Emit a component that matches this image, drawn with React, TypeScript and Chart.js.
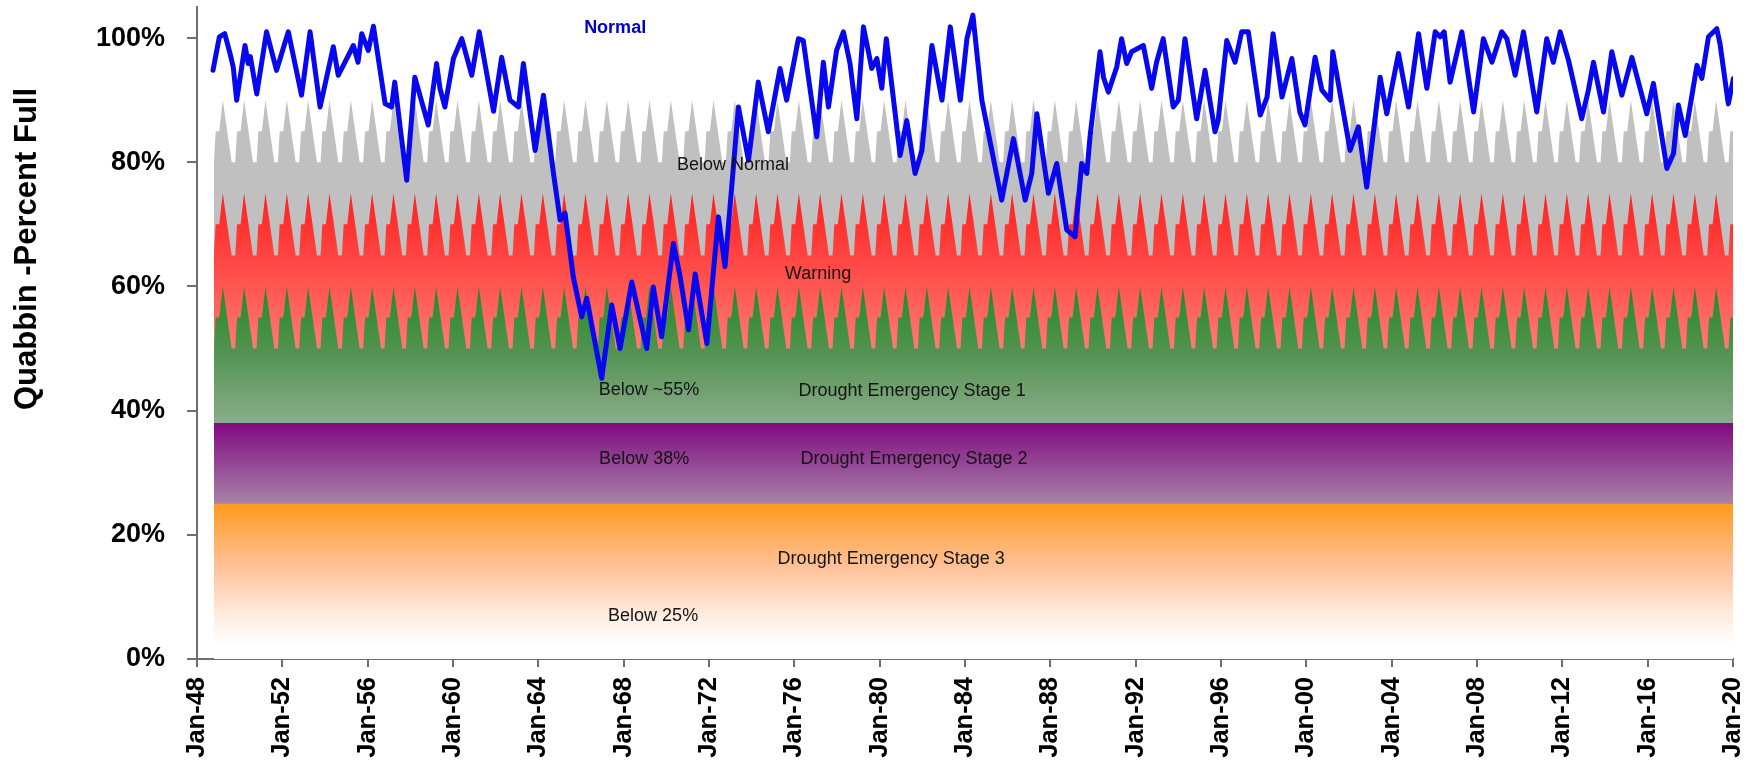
import React, { useEffect, useRef } from 'react';
import { Chart, registerables } from 'chart.js';

Chart.register(...registerables);

// ---------- data ----------
const X_TICK_YEARS = [1948, 1952, 1956, 1960, 1964, 1968, 1972, 1976, 1980, 1984, 1988, 1992, 1996, 2000, 2004, 2008, 2012, 2016, 2020];
const Y_TICKS = [0, 20, 40, 60, 80, 100];

// Quabbin percent full (decimal year, percent)
const LEVEL_DATES = [
  1948.75, 1949.05, 1949.3, 1949.55, 1949.7, 1949.86, 1950.25, 1950.4, 1950.5, 1950.8,
  1951.26, 1951.73, 1952.28, 1952.9, 1953.3, 1953.77, 1954.39, 1954.62, 1954.86, 1955.33,
  1955.55, 1955.72, 1956.03, 1956.27, 1956.82, 1957.12, 1957.27, 1957.52, 1957.83, 1958.21,
  1958.84, 1959.23, 1959.39, 1959.62, 1960.02, 1960.41, 1960.88, 1961.23, 1961.9, 1962.28,
  1962.67, 1963.07, 1963.3, 1963.85, 1964.24, 1964.71, 1965.02, 1965.25, 1965.64, 1966.03,
  1966.27, 1966.97, 1967.44, 1967.83, 1968.38, 1969.08, 1969.39, 1969.78, 1970.33, 1970.65,
  1971.04, 1971.35, 1971.9, 1972.44, 1972.75, 1973.38, 1973.85, 1974.31, 1974.78, 1975.33,
  1975.64, 1976.19, 1976.42, 1977.05, 1977.36, 1977.6, 1977.98, 1978.3, 1978.61, 1978.93,
  1979.24, 1979.63, 1979.87, 1980.1, 1980.31, 1980.96, 1981.27, 1981.66, 1981.98, 1982.45,
  1982.92, 1983.31, 1983.78, 1984.09, 1984.37, 1984.79, 1985.02, 1985.72, 1986.27, 1986.82,
  1987.13, 1987.37, 1987.91, 1988.3, 1988.77, 1989.16, 1989.47, 1989.71, 1989.86, 1990.33,
  1990.49, 1990.72, 1991.11, 1991.34, 1991.58, 1991.81, 1992.36, 1992.75, 1992.98, 1993.29,
  1993.76, 1994.0, 1994.31, 1994.86, 1995.25, 1995.72, 1995.87, 1996.27, 1996.66, 1996.97,
  1997.28, 1997.84, 1998.16, 1998.44, 1998.86, 1999.32, 1999.7, 1999.94, 2000.41, 2000.73,
  2001.12, 2001.24, 2002.05, 2002.44, 2002.83, 2003.46, 2003.77, 2004.0, 2004.32, 2004.79,
  2005.26, 2005.65, 2006.04, 2006.27, 2006.46, 2006.74, 2007.29, 2007.84, 2008.3, 2008.7,
  2009.16, 2009.4, 2009.79, 2010.18, 2010.8, 2011.27, 2011.58, 2011.9, 2012.29, 2012.91,
  2013.22, 2013.46, 2013.93, 2014.32, 2014.79, 2015.26, 2015.96, 2016.27, 2016.9, 2017.21,
  2017.44, 2017.76, 2018.31, 2018.54, 2018.85, 2019.24, 2019.39, 2019.78, 2020.02,
];
const LEVEL_VALUES = [
  94.8, 100.2, 100.7, 97.5, 95.3, 90, 98.8, 95.9, 97, 91,
  101, 94.8, 101, 90.8, 101, 88.9, 98.6, 94, 95.6, 98.8,
  96.1, 100.7, 98, 101.9, 89.4, 88.9, 92.9, 85.7, 77.1, 93.7,
  86, 95.9, 91.9, 88.9, 96.7, 99.9, 94, 101, 88.2, 96.9,
  90, 88.9, 95.9, 81.9, 90.8, 78.2, 70.7, 71.8, 61.5, 55.1,
  58.1, 45.2, 57, 50, 60.7, 50, 59.9, 51.9, 66.9, 61.5,
  53, 62, 50.8, 71.2, 63.2, 88.9, 80.3, 92.9, 84.9, 95.1,
  90, 99.9, 99.6, 84.1, 96.1, 88.9, 98, 101, 95.9, 87,
  101.8, 95.1, 96.7, 91.9, 99.9, 81.1, 86.7, 78.2, 81.9, 98.8,
  90, 101.8, 90, 99.9, 103.7, 90, 86, 73.9, 83.8, 73.9,
  78.2, 87.8, 75, 79.8, 69.1, 68, 79.8, 78.2, 84.1, 97.8,
  93.7, 91.3, 95.3, 99.9, 95.9, 97.8, 98.8, 91.9, 96.1, 99.9,
  88.9, 90, 99.9, 87, 94.8, 84.9, 86.8, 99.6, 96.1, 101,
  101, 87.6, 90.5, 100.7, 90.5, 96.7, 88, 86, 96.9, 91.6,
  90, 97.8, 81.9, 85.7, 76, 93.7, 87.8, 91.9, 97.5, 88.9,
  100.7, 91.9, 101, 100.2, 101, 92.9, 101, 88.1, 99.9, 96.1,
  101, 99.9, 94, 101, 88.1, 99.9, 96.1, 101, 96.4, 87,
  91.6, 96.1, 88.1, 97.8, 90.8, 96.9, 87.8, 92.7, 79, 81.4,
  89.2, 84.3, 95.6, 93.5, 100.2, 101.5, 99.1, 89.4, 93.5,
];

// Seasonal zone thresholds (Jan..Dec), repeated every year
const BELOW_NORMAL_MONTHLY = [85, 87.5, 90, 88, 86, 84, 82, 80, 80, 80, 85, 85];
const WARNING_MONTHLY = [70, 72.5, 75, 73, 71, 69, 67, 65, 65, 65, 70, 70];
const STAGE1_MONTHLY = [55, 57.5, 60, 58, 56, 54, 52, 50, 50, 50, 55, 55];
const STAGE2_LEVEL = 38;
const STAGE3_LEVEL = 25;
const ZONE_FIRST = { year: 1948, month: 9 }; // Oct 1948
const ZONE_LAST = { year: 2020, month: 0 }; // Jan 2020

const ZONE_TEXTS = [
  'Normal', 'Below Normal', 'Warning', 'Below ~55%', 'Drought Emergency Stage 1',
  'Below 38%', 'Drought Emergency Stage 2', 'Drought Emergency Stage 3', 'Below 25%',
];
// label anchors in data units (year, percent)
const ZONE_TEXT_YEARS = [1967.6, 1973.13, 1977.11, 1969.19, 1981.52, 1968.96, 1981.61, 1980.54, 1969.38];
const ZONE_TEXT_VALUES = [101.6, 79.5, 62.0, 43.3, 43.1, 32.2, 32.2, 16.1, 7.0];

const Y_TITLE = 'Quabbin -Percent Full';

// ---------- helpers ----------
const FONT = "'Liberation Sans', Arial, Helvetica, sans-serif";
const AXIS_COLOR = '#6e6e6e';

function monthlySeries(pattern: number[]) {
  const pts: { x: number; y: number }[] = [];
  for (let yr = ZONE_FIRST.year; yr <= ZONE_LAST.year; yr++) {
    for (let m = 0; m < 12; m++) {
      if (yr === ZONE_FIRST.year && m < ZONE_FIRST.month) continue;
      if (yr === ZONE_LAST.year && m > ZONE_LAST.month) break;
      pts.push({ x: yr + (m + 0.5) / 12, y: pattern[m] });
    }
  }
  return pts;
}

function flatSeries(level: number) {
  return [
    { x: ZONE_FIRST.year + (ZONE_FIRST.month + 0.5) / 12, y: level },
    { x: ZONE_LAST.year + (ZONE_LAST.month + 0.5) / 12, y: level },
  ];
}

function vGradient(chart: any, fromVal: number, toVal: number, stops: [number, string][]) {
  const { ctx, chartArea, scales } = chart;
  if (!chartArea || !scales || !scales.y) return stops[0][1];
  const y0 = scales.y.getPixelForValue(fromVal);
  const y1 = scales.y.getPixelForValue(toVal);
  const g = ctx.createLinearGradient(0, y0, 0, y1);
  stops.forEach(([o, c]) => g.addColorStop(o, c));
  return g;
}

const zoneLabelPlugin = {
  id: 'zoneLabels',
  afterDatasetsDraw(chart: any) {
    const { ctx, scales } = chart;
    const xs = scales.x;
    const ys = scales.y;
    ctx.save();
    ctx.textAlign = 'center';
    ctx.textBaseline = 'middle';
    ZONE_TEXTS.forEach((t, i) => {
      if (i === 0) {
        ctx.font = `bold 18px ${FONT}`;
        ctx.fillStyle = '#0000cc';
      } else {
        ctx.font = `18px ${FONT}`;
        ctx.fillStyle = '#141414';
      }
      ctx.fillText(t, xs.getPixelForValue(ZONE_TEXT_YEARS[i]), ys.getPixelForValue(ZONE_TEXT_VALUES[i]));
    });
    // y axis title
    ctx.translate(27, 249);
    ctx.rotate(-Math.PI / 2);
    ctx.font = `bold 31px ${FONT}`;
    ctx.fillStyle = '#000';
    ctx.fillText(Y_TITLE, 0, 0);
    ctx.restore();
  },
};

export default function App() {
  const ref = useRef<HTMLCanvasElement | null>(null);

  useEffect(() => {
    if (!ref.current) return;
    const levelData = LEVEL_DATES.map((d, i) => ({ x: d, y: LEVEL_VALUES[i] }));
    const band = (data: any, order: number, bg: any) => ({
      data,
      order,
      fill: 'origin',
      borderWidth: 0,
      pointRadius: 0,
      backgroundColor: bg,
      borderColor: 'rgba(0,0,0,0)',
    });

    const chart = new Chart(ref.current, {
      type: 'line',
      data: {
        datasets: [
          {
            data: levelData,
            order: 0,
            fill: false,
            borderColor: '#0808f0',
            borderWidth: 5,
            pointRadius: 0,
            borderJoinStyle: 'round',
            borderCapStyle: 'round',
            tension: 0,
          } as any,
          band(flatSeries(STAGE3_LEVEL), 1, (c: any) =>
            vGradient(c.chart, STAGE3_LEVEL, 2, [[0, '#ff9a1e'], [0.45, '#ffc29a'], [0.8, '#ffeee4'], [1, '#ffffff']])),
          band(flatSeries(STAGE2_LEVEL), 2, (c: any) =>
            vGradient(c.chart, STAGE2_LEVEL, STAGE3_LEVEL, [[0, '#800a80'], [1, '#a883a8']])),
          band(monthlySeries(STAGE1_MONTHLY), 3, (c: any) =>
            vGradient(c.chart, 60, STAGE2_LEVEL, [[0, '#238b23'], [0.45, '#4f924f'], [1, '#8aac8a']])),
          band(monthlySeries(WARNING_MONTHLY), 4, (c: any) =>
            vGradient(c.chart, 75, 50, [[0, '#ff2020'], [1, '#ff7a72']])),
          band(monthlySeries(BELOW_NORMAL_MONTHLY), 5, '#c0c0c0'),
        ],
      },
      options: {
        responsive: false,
        animation: false,
        layout: { padding: { top: 7, right: 23, left: 0, bottom: 0 } },
        plugins: {
          legend: { display: false },
          tooltip: { enabled: false },
        },
        scales: {
          x: {
            type: 'linear',
            min: 1948,
            max: 2020,
            afterBuildTicks: (s: any) => {
              s.ticks = X_TICK_YEARS.map((v) => ({ value: v }));
            },
            afterFit: (s: any) => {
              s.height = 102;
              s.paddingLeft = 0;
              s.paddingRight = 0;
            },
            grid: { drawOnChartArea: false, drawTicks: true, tickLength: 8, color: AXIS_COLOR, lineWidth: 2 },
            border: { display: true, color: AXIS_COLOR, width: 2 },
            ticks: {
              autoSkip: false,
              minRotation: 90,
              maxRotation: 90,
              padding: 10,
              color: '#000',
              font: { family: FONT, size: 25.5, weight: 'bold' },
              callback: (v: any) => 'Jan-' + String(Math.round(Number(v)) % 100).padStart(2, '0'),
            },
          },
          y: {
            type: 'linear',
            min: 0,
            max: 105,
            afterBuildTicks: (s: any) => {
              s.ticks = Y_TICKS.map((v) => ({ value: v }));
            },
            afterFit: (s: any) => {
              s.width = 197;
              s.paddingTop = 0;
              s.paddingBottom = 0;
            },
            grid: { drawOnChartArea: false, drawTicks: true, tickLength: 10, color: AXIS_COLOR, lineWidth: 2 },
            border: { display: true, color: AXIS_COLOR, width: 2 },
            ticks: {
              padding: 22,
              color: '#000',
              font: { family: FONT, size: 27, weight: 'bold' },
              callback: (v: any) => `${v}%`,
            },
          },
        },
      } as any,
      plugins: [zoneLabelPlugin],
    });
    return () => chart.destroy();
  }, []);

  return (
    <div style={{ position: 'absolute', left: 0, top: 0, width: 1756, height: 761, background: '#fff' }}>
      <canvas ref={ref} width={1756} height={761} style={{ display: 'block', width: 1756, height: 761 }} />
    </div>
  );
}
